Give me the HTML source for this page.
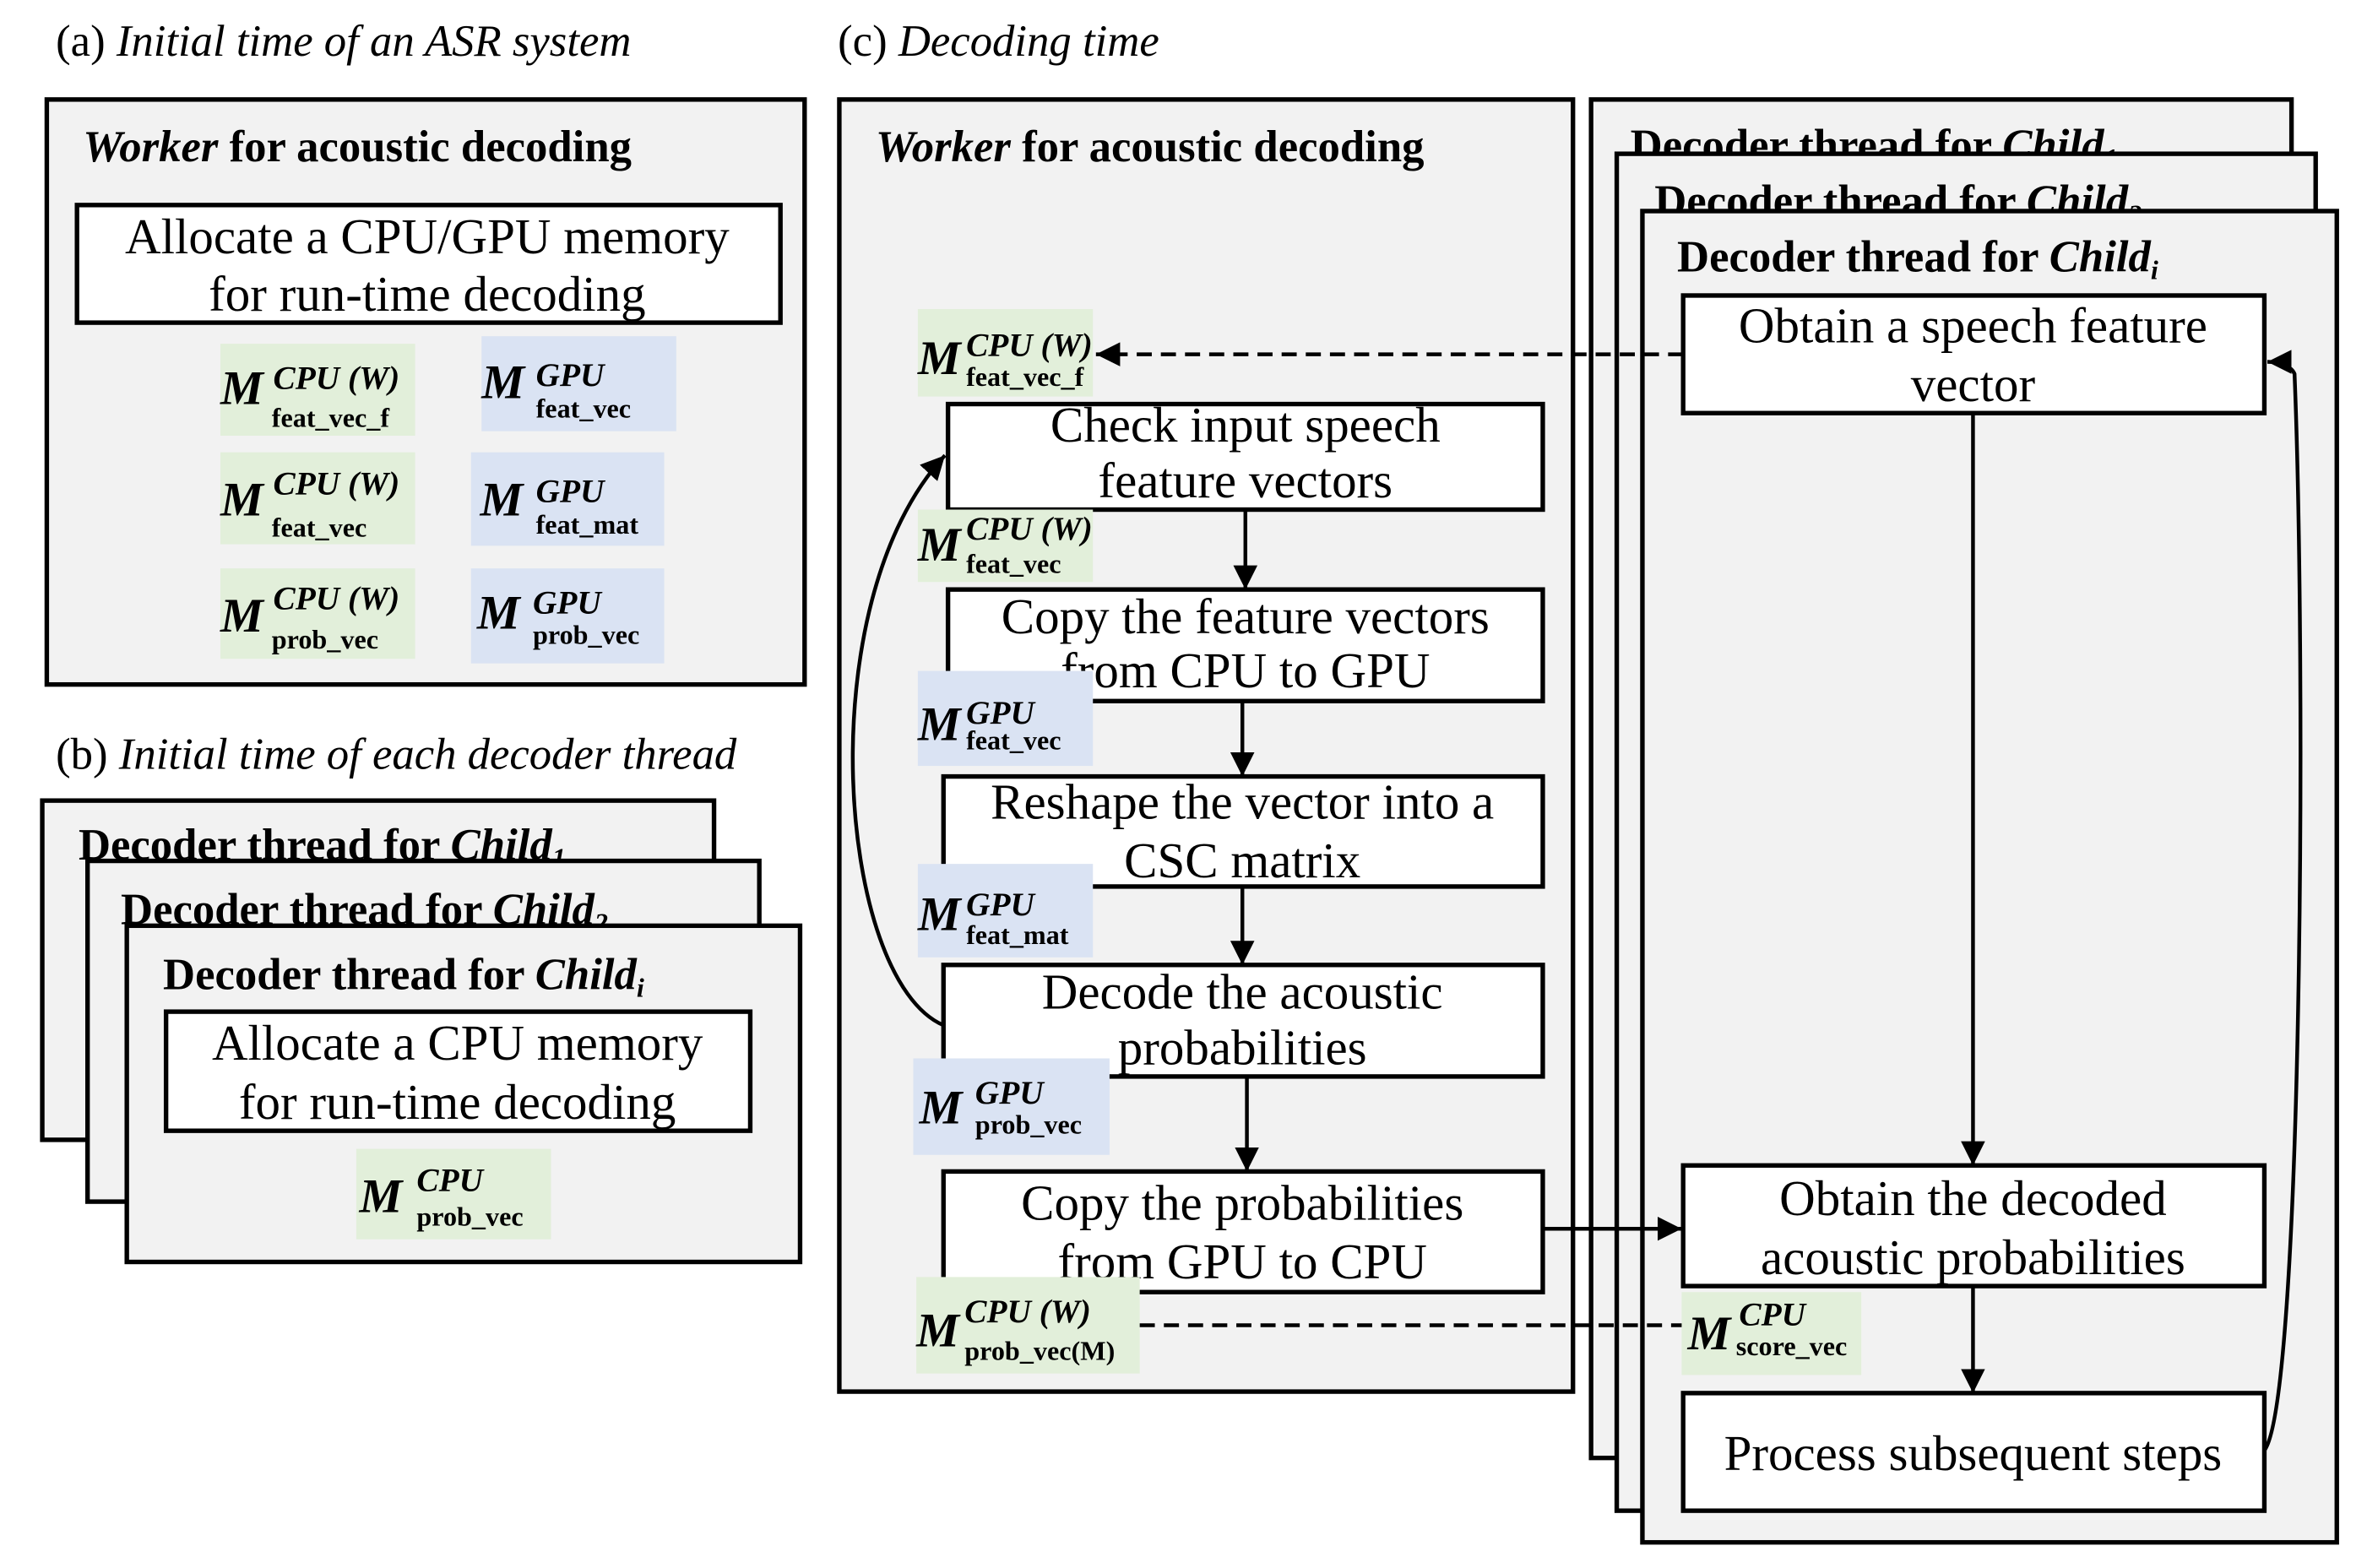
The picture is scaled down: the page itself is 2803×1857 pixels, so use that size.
<!DOCTYPE html>
<html><head><meta charset="utf-8"><style>
html,body{margin:0;padding:0;background:#fff}
svg{display:block}
text{font-family:"Liberation Serif",serif;fill:#000}
.t{font-size:29.5px}
.h{font-size:29.5px;font-weight:bold}
.b{font-size:33px;text-anchor:middle}
.M{font-size:32px;font-weight:bold;font-style:italic}
.sp{font-size:22px;font-weight:bold;font-style:italic}
.sb{font-size:18px;font-weight:bold}
.box{fill:#f2f2f2;stroke:#000;stroke-width:3}
.wb{fill:#fff;stroke:#000;stroke-width:3}
.g{fill:#e2efda}.bl{fill:#dae3f3}
.ln{stroke:#000;stroke-width:2.5;fill:none}
</style></head><body>
<svg width="2803" height="1857" viewBox="0 0 1568 1040" preserveAspectRatio="none" xmlns="http://www.w3.org/2000/svg">
<defs>
<marker id="A" viewBox="0 0 10 10" markerWidth="16" markerHeight="16" refX="10" refY="5" orient="auto" markerUnits="userSpaceOnUse"><path d="M0,0 L10,5 L0,10 z" fill="#000"/></marker></defs>

<!-- (a) -->
<text x="37" y="37" class="t">(a) <tspan font-style="italic">Initial time of an ASR system</tspan></text>
<rect x="31" y="66" width="502" height="388" class="box"/>
<text x="55" y="107" class="h"><tspan font-style="italic">Worker</tspan> for acoustic decoding</text>
<rect x="51" y="136" width="466" height="78" class="wb"/>
<text x="283" y="168" class="b">Allocate a CPU/GPU memory</text>
<text x="283" y="206" class="b">for run-time decoding</text>
<rect x="146" y="228" width="129" height="61" class="g"/>
<text x="146" y="268" class="M">M</text><text x="181" y="258" class="sp">CPU (W)</text><text x="180" y="283" class="sb">feat_vec_f</text>
<rect x="319" y="223" width="129" height="63" class="bl"/>
<text x="319" y="264" class="M">M</text><text x="355" y="256" class="sp">GPU</text><text x="355" y="277" class="sb">feat_vec</text>
<rect x="146" y="300" width="129" height="61" class="g"/>
<text x="146" y="342" class="M">M</text><text x="181" y="328" class="sp">CPU (W)</text><text x="180" y="356" class="sb">feat_vec</text>
<rect x="312" y="300" width="128" height="62" class="bl"/>
<text x="318" y="342" class="M">M</text><text x="355" y="333" class="sp">GPU</text><text x="355" y="354" class="sb">feat_mat</text>
<rect x="146" y="377" width="129" height="60" class="g"/>
<text x="146" y="419" class="M">M</text><text x="181" y="404" class="sp">CPU (W)</text><text x="180" y="430" class="sb">prob_vec</text>
<rect x="312" y="377" width="128" height="63" class="bl"/>
<text x="316" y="417" class="M">M</text><text x="353" y="407" class="sp">GPU</text><text x="353" y="427" class="sb">prob_vec</text>

<!-- (b) -->
<text x="37" y="510" class="t">(b) <tspan font-style="italic">Initial time of each decoder thread</tspan></text>
<rect x="28" y="531" width="445" height="225" class="box"/>
<text x="52" y="570" class="h">Decoder thread for <tspan font-style="italic">Child</tspan><tspan font-size="18" font-style="italic" dy="5">1</tspan></text>
<rect x="58" y="571" width="445" height="226" class="box"/>
<text x="80" y="613" class="h">Decoder thread for <tspan font-style="italic">Child</tspan><tspan font-size="18" font-style="italic" dy="5">2</tspan></text>
<rect x="84" y="614" width="446" height="223" class="box"/>
<text x="108" y="656" class="h">Decoder thread for <tspan font-style="italic">Child</tspan><tspan font-size="18" font-style="italic" dy="5">i</tspan></text>
<rect x="110" y="671" width="387" height="79" class="wb"/>
<text x="303" y="703" class="b">Allocate a CPU memory</text>
<text x="303" y="742" class="b">for run-time decoding</text>
<rect x="236" y="762" width="129" height="60" class="g"/>
<text x="238" y="804" class="M">M</text><text x="276" y="790" class="sp">CPU</text><text x="276" y="813" class="sb">prob_vec</text>

<!-- (c) -->
<text x="555" y="37" class="t">(c) <tspan font-style="italic">Decoding time</tspan></text>
<rect x="556" y="66" width="486" height="857" class="box"/>
<text x="580" y="107" class="h"><tspan font-style="italic">Worker</tspan> for acoustic decoding</text>

<rect x="1054" y="66" width="464" height="901" class="box"/>
<text x="1080" y="106" class="h">Decoder thread for <tspan font-style="italic">Child</tspan><tspan font-size="18" font-style="italic" dy="5">1</tspan></text>
<rect x="1071" y="102" width="463" height="900" class="box"/>
<text x="1096" y="143" class="h">Decoder thread for <tspan font-style="italic">Child</tspan><tspan font-size="18" font-style="italic" dy="5">2</tspan></text>
<rect x="1088" y="140" width="460" height="883" class="box"/>
<text x="1111" y="180" class="h">Decoder thread for <tspan font-style="italic">Child</tspan><tspan font-size="18" font-style="italic" dy="5">i</tspan></text>

<!-- left column -->
<rect x="608" y="205" width="116" height="58" class="g"/>
<text x="608" y="248" class="M">M</text><text x="640" y="236" class="sp">CPU (W)</text><text x="640" y="256" class="sb">feat_vec_f</text>
<rect x="628" y="268" width="394" height="70" class="wb"/>
<text x="825" y="293" class="b">Check input speech</text>
<text x="825" y="330" class="b">feature vectors</text>
<rect x="608" y="338" width="116" height="48" class="g"/>
<text x="608" y="372" class="M">M</text><text x="640" y="358" class="sp">CPU (W)</text><text x="640" y="380" class="sb">feat_vec</text>
<rect x="628" y="391" width="394" height="74" class="wb"/>
<text x="825" y="420" class="b">Copy the feature vectors</text>
<text x="825" y="456" class="b">from CPU to GPU</text>
<rect x="608" y="445" width="116" height="63" class="bl"/>
<text x="608" y="491" class="M">M</text><text x="640" y="480" class="sp">GPU</text><text x="640" y="497" class="sb">feat_vec</text>
<rect x="625" y="515" width="397" height="73" class="wb"/>
<text x="823" y="543" class="b">Reshape the vector into a</text>
<text x="823" y="582" class="b">CSC matrix</text>
<rect x="608" y="573" width="116" height="62" class="bl"/>
<text x="608" y="617" class="M">M</text><text x="640" y="607" class="sp">GPU</text><text x="640" y="626" class="sb">feat_mat</text>
<rect x="625" y="640" width="397" height="74" class="wb"/>
<text x="823" y="669" class="b">Decode the acoustic</text>
<text x="823" y="706" class="b">probabilities</text>
<rect x="605" y="702" width="130" height="64" class="bl"/>
<text x="609" y="745" class="M">M</text><text x="646" y="732" class="sp">GPU</text><text x="646" y="752" class="sb">prob_vec</text>
<rect x="625" y="777" width="397" height="80" class="wb"/>
<text x="823" y="809" class="b">Copy the probabilities</text>
<text x="823" y="848" class="b">from GPU to CPU</text>
<rect x="607" y="847" width="148" height="64" class="g"/>
<text x="607" y="893" class="M">M</text><text x="639" y="877" class="sp">CPU (W)</text><text x="639" y="902" class="sb">prob_vec(M)</text>

<!-- right column -->
<rect x="1115" y="196" width="385" height="78" class="wb"/>
<text x="1307" y="227" class="b">Obtain a speech feature</text>
<text x="1307" y="266" class="b">vector</text>
<rect x="1115" y="773" width="385" height="80" class="wb"/>
<text x="1307" y="806" class="b">Obtain the decoded</text>
<text x="1307" y="845" class="b">acoustic probabilities</text>
<rect x="1114" y="857" width="119" height="55" class="g"/>
<text x="1118" y="895" class="M">M</text><text x="1152" y="879" class="sp">CPU</text><text x="1150" y="899" class="sb">score_vec</text>
<rect x="1115" y="924" width="385" height="78" class="wb"/>
<text x="1307" y="975" class="b">Process subsequent steps</text>

<!-- connectors -->
<line x1="825" y1="338" x2="825" y2="391" class="ln" marker-end="url(#A)"/>
<line x1="823" y1="465" x2="823" y2="515" class="ln" marker-end="url(#A)"/>
<line x1="823" y1="588" x2="823" y2="640" class="ln" marker-end="url(#A)"/>
<line x1="826" y1="714" x2="826" y2="777" class="ln" marker-end="url(#A)"/>
<path d="M625,680 C555,650 535,400 626,302" class="ln" marker-end="url(#A)"/>
<line x1="1115" y1="235" x2="726" y2="235" class="ln" stroke-dasharray="10,6" marker-end="url(#A)"/>
<line x1="755" y1="879" x2="1114" y2="879" class="ln" stroke-dasharray="10,6"/>
<line x1="1022" y1="815" x2="1114" y2="815" class="ln" marker-end="url(#A)"/>
<line x1="1307" y1="274" x2="1307" y2="773" class="ln" marker-end="url(#A)"/>
<line x1="1307" y1="853" x2="1307" y2="924" class="ln" marker-end="url(#A)"/>
<path d="M1500,962 C1525,930 1528,450 1520,248 C1518,243 1510,240 1502,240" class="ln" marker-end="url(#A)"/>
</svg>
</body></html>
